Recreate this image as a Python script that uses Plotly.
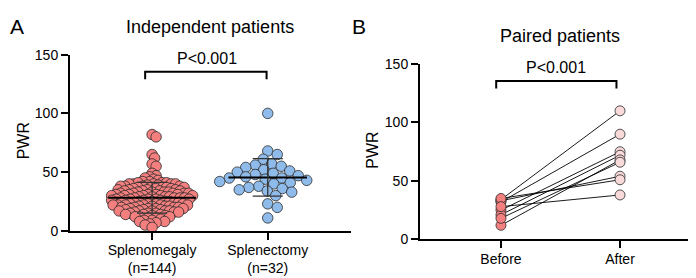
import numpy as np
import plotly.graph_objects as go

# ---------------- data ----------------
groups_a = ["Splenomegaly<br>(n=144)", "Splenectomy<br>(n=32)"]
splenomegaly = [82, 80, 65, 62, 57, 55, 49, 47, 46, 45, 44, 43, 42, 42, 41, 40, 40,
                41, 41, 40, 40, 40, 39, 39, 38, 38, 38, 38, 37, 37, 37, 37, 37,
                36, 36, 36, 35, 35, 35, 35, 34, 34, 34, 34, 33, 33, 33, 33, 32, 32, 32, 32, 32,
                31, 31, 31, 31, 31, 30, 30, 30, 30, 30, 29, 29, 29, 29, 28, 28, 28, 28, 28,
                27, 27, 27, 27, 27,
                26, 26, 26, 26, 25, 25, 25, 25, 24, 24, 24, 24, 23, 23, 23, 23, 22, 22, 22, 22, 22, 22,
                21, 21, 21, 21, 20, 20, 20, 20, 19, 19, 19, 19, 18, 18, 18, 17, 17, 17, 17, 17,
                16, 16, 16, 15, 15, 15, 14, 14, 14, 13, 13, 12, 12, 12,
                11, 11, 10, 9, 9, 8, 8, 7,
                6, 5, 3]
splenectomy = [100, 68, 65, 61, 57, 56, 55, 54, 52, 51, 50, 49, 48, 47, 46, 45, 45, 44,
               43, 42, 41, 40, 38, 37, 36, 35, 34, 33, 30, 23, 20, 11]

groups_b = ["Before", "After"]
before = [34, 32, 25, 21, 12, 18, 33, 35, 28]
after = [110, 90, 75, 72, 68, 66, 54, 51, 38]

y_ticks = [0, 50, 100, 150]
p_text = "P<0.001"

# ---------------- style ----------------
RED = "#F47F7F"
BLUE = "#8FBBEA"
PINK = "#F8DADA"
EDGE = "#2a2a2a"
FONT = "Liberation Sans, Arial, sans-serif"

W, H = 696, 278
A_X0, A_X1 = 62, 343
A_Y0, A_Y1 = 228, 41
B_X0, B_X1 = 412, 693
B_Y0, B_Y1 = 237, 51
A_XRANGE = [-0.71, 1.72]
B_XRANGE = [-0.68, 1.68]
YRANGE = [0, 150]


def swarm(values, px_per_y, px_per_x, spacing):
    vals = np.asarray(values, dtype=float)
    order = np.argsort(-vals, kind="stable")
    placed = []
    offs = np.zeros(len(vals))
    cands = [0.0]
    for k in range(1, 200):
        cands += [k * 0.5, -k * 0.5]
    for i in order:
        y = vals[i] * px_per_y
        for c in cands:
            ok = True
            for (px, py) in placed:
                if (px - c) ** 2 + (py - y) ** 2 < spacing ** 2:
                    ok = False
                    break
            if ok:
                placed.append((c, y))
                offs[i] = c / px_per_x
                break
    return offs


a_pxy = (A_Y0 - A_Y1) / (YRANGE[1] - YRANGE[0])
a_pxx = (A_X1 - A_X0) / (A_XRANGE[1] - A_XRANGE[0])

fig = go.Figure()

datasets = [(splenomegaly, 0, RED, 4.4), (splenectomy, 1, BLUE, 9.8)]
for vals, xi, col, sp in datasets:
    offs = swarm(vals, a_pxy, a_pxx, sp)
    fig.add_trace(go.Scatter(
        x=xi + offs, y=vals, mode="markers", xaxis="x", yaxis="y",
        marker=dict(size=10.5, color=col, line=dict(color=EDGE, width=0.8)),
        cliponaxis=False, showlegend=False, hoverinfo="y"))

# mean +/- SD
for vals, xi, half in [(splenomegaly, 0, 0.38), (splenectomy, 1, 0.34)]:
    m = float(np.mean(vals))
    s = float(np.std(vals, ddof=1))
    fig.add_trace(go.Scatter(x=[xi - half, xi + half], y=[m, m], mode="lines",
                             line=dict(color="black", width=2), xaxis="x", yaxis="y",
                             showlegend=False, hoverinfo="skip"))
    fig.add_trace(go.Scatter(x=[xi, xi, None, xi - 0.13, xi + 0.13, None, xi - 0.13, xi + 0.13],
                             y=[m - s, m + s, None, m + s, m + s, None, m - s, m - s],
                             mode="lines", line=dict(color="#333", width=1.3),
                             xaxis="x", yaxis="y", showlegend=False, hoverinfo="skip"))

# paired lines
for b, a in zip(before, after):
    fig.add_trace(go.Scatter(x=[0, 1], y=[b, a], mode="lines", xaxis="x2", yaxis="y2",
                             line=dict(color="black", width=0.9), showlegend=False,
                             hoverinfo="skip"))
fig.add_trace(go.Scatter(x=[0] * len(before), y=before, mode="markers", xaxis="x2", yaxis="y2",
                         marker=dict(size=10, color=RED, line=dict(color=EDGE, width=0.8)),
                         cliponaxis=False, showlegend=False))
fig.add_trace(go.Scatter(x=[1] * len(after), y=after, mode="markers", xaxis="x2", yaxis="y2",
                         marker=dict(size=10, color=PINK, line=dict(color=EDGE, width=0.8)),
                         cliponaxis=False, showlegend=False))

axis_common = dict(showgrid=False, zeroline=False, showline=True, linecolor="black",
                   linewidth=2, ticks="outside", ticklen=7, tickwidth=2, tickcolor="black",
                   tickfont=dict(family=FONT, size=14, color="black"))

fig.update_layout(
    width=W, height=H, margin=dict(l=0, r=0, t=0, b=0),
    paper_bgcolor="white", plot_bgcolor="white",
    font=dict(family=FONT, color="black"),
    xaxis=dict(domain=[A_X0 / W, A_X1 / W], range=A_XRANGE, tickmode="array",
               tickvals=[0, 1], ticktext=groups_a, anchor="y", ticklabelstandoff=-2,
               **axis_common),
    yaxis=dict(domain=[(H - A_Y0) / H, (H - A_Y1) / H], range=YRANGE, tickvals=y_ticks,
               anchor="x", **axis_common),
    xaxis2=dict(domain=[B_X0 / W, B_X1 / W], range=B_XRANGE, tickmode="array",
                tickvals=[0, 1], ticktext=groups_b, anchor="y2", ticklabelstandoff=-1,
                **axis_common),
    yaxis2=dict(domain=[(H - B_Y0) / H, (H - B_Y1) / H], range=YRANGE, tickvals=y_ticks,
                anchor="x2", **axis_common),
)

# significance brackets
BR_TOP, BR_BOT = 135.5, 129
for xr, yr, x0, x1 in [("x", "y", -0.06, 0.99), ("x2", "y2", -0.04, 0.97)]:
    fig.add_shape(type="path", xref=xr, yref=yr,
                  path=f"M {x0},{BR_BOT} L {x0},{BR_TOP} L {x1},{BR_TOP} L {x1},{BR_BOT}",
                  line=dict(color="black", width=2))


def ann(text, xpx, ypx, size, **kw):
    fig.add_annotation(text=text, x=xpx / W, y=1 - ypx / H, xref="paper", yref="paper",
                       showarrow=False, xanchor="center", yanchor="middle",
                       font=dict(family=FONT, size=size, color="black"), **kw)


ann("A", 9, 11, 21)
ann("B", 351, 11, 21)
ann("Independent patients", 202, 12, 18)
ann("Paired patients", 552, 21, 18)
ann(p_text, 199, 45, 16)
ann(p_text, 548, 55, 16)
ann("PWR", 15, 133, 16, textangle=-90)
ann("PWR", 365, 143, 16, textangle=-90)

fig.write_html("out.html")
